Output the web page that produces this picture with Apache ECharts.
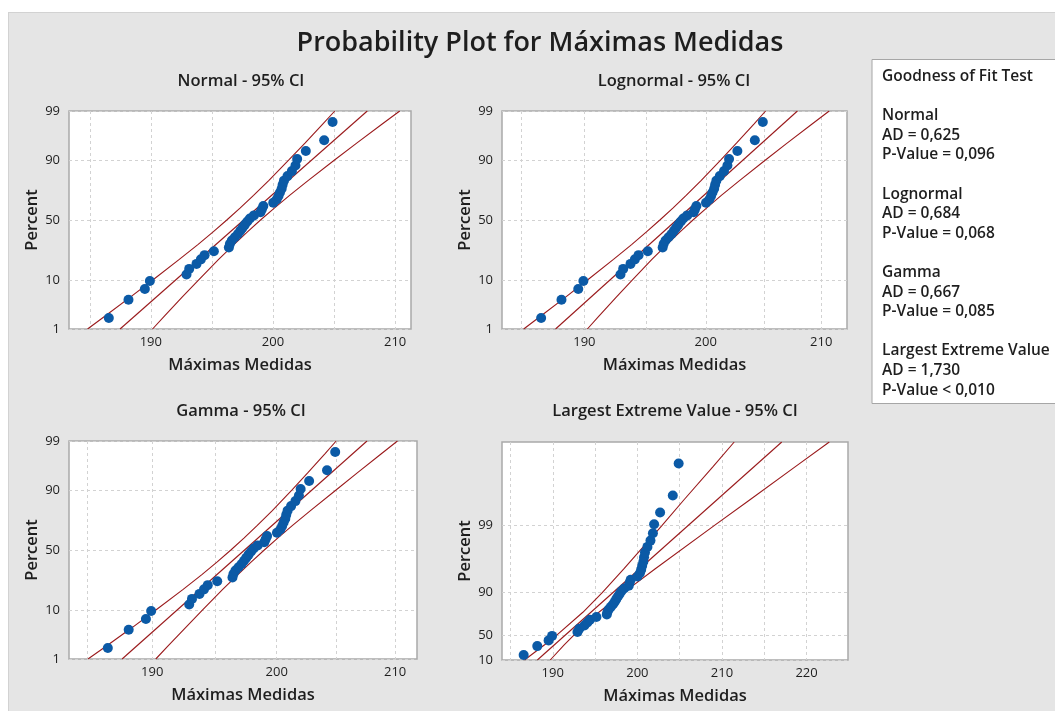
<!DOCTYPE html>
<html><head><meta charset="utf-8">
<script src="https://cdn.jsdelivr.net/npm/echarts@6/dist/echarts.min.js"></script>
<style>
html,body{margin:0;padding:0;background:#fff;}
#bg{position:absolute;left:8px;top:12px;width:1047px;height:699px;background:#e5e5e5;border-left:1px solid #d2d2d2;border-top:1px solid #d2d2d2;box-sizing:border-box;}
#c{position:absolute;left:0;top:0;width:1055px;height:711px;}
</style>
</head><body><div id="bg"></div><div id="c"></div><script>
// ---------- data ----------
const maximas = [186.56, 188.17, 189.51, 189.92, 192.92, 193.14, 193.74, 194.10, 194.40, 195.16,
  196.39, 196.47, 196.63, 196.88, 197.13, 197.33, 197.51, 197.70, 197.90, 198.11,
  198.44, 198.98, 199.09, 199.21, 200.02, 200.30, 200.45, 200.57, 200.71, 200.79,
  200.90, 201.19, 201.55, 201.84, 201.98, 202.69, 204.19, 204.88];
const plotPercent = [1.82, 4.43, 7.03, 9.64, 12.24, 14.84, 17.45, 20.05, 22.66, 25.26,
  27.86, 30.47, 33.07, 35.68, 38.28, 40.89, 43.49, 46.09, 48.70, 51.30,
  53.91, 56.51, 59.11, 61.72, 64.32, 66.93, 69.53, 72.14, 74.74, 77.34,
  79.95, 82.55, 85.16, 87.76, 90.36, 92.97, 95.57, 98.18];

const percentTicks = [1, 10, 50, 90, 99];
const percentTickLabels = ['1', '10', '50', '90', '99'];
const levTickPercent = [1, 10, 50, 90];
const levTickLabels = ['10', '50', '90', '99'];
const xGridValues = [185, 190, 195, 200, 205, 210];
const xLabelValues = [190, 200, 210];
const levXGridValues = [185, 190, 195, 200, 205, 210, 215, 220];
const levXLabelValues = [190, 200, 210, 220];

const fitPercent = [1, 99];
const bandPercent = [1, 2, 5, 10, 20, 30, 40, 50, 60, 70, 80, 90, 95, 98, 99];

const normalFit = [187.48, 207.72];
const normalLower = [184.82, 186.23, 188.32, 190.16, 192.33, 193.85, 195.10, 196.22, 197.30, 198.41, 199.65, 201.30, 202.64, 204.09, 205.06];
const normalUpper = [190.14, 191.11, 192.56, 193.90, 195.55, 196.80, 197.91, 198.98, 200.11, 201.36, 202.87, 205.04, 206.88, 208.97, 210.38];

const lognormalFit = [187.70, 207.90];
const lognormalLower = [185.19, 186.51, 188.50, 190.25, 192.35, 193.83, 195.05, 196.16, 197.24, 198.35, 199.60, 201.28, 202.63, 204.13, 205.12];
const lognormalUpper = [190.24, 191.17, 192.58, 193.88, 195.50, 196.74, 197.84, 198.92, 200.06, 201.32, 202.87, 205.11, 207.02, 209.22, 210.71];

const gammaFit = [187.66, 207.58];
const gammaLower = [185.04, 186.43, 188.49, 190.29, 192.44, 193.93, 195.16, 196.26, 197.32, 198.41, 199.64, 201.27, 202.57, 204.01, 204.96];
const gammaUpper = [190.28, 191.23, 192.67, 193.97, 195.60, 196.83, 197.92, 198.98, 200.08, 201.31, 202.80, 204.95, 206.75, 208.81, 210.20];

const levBandPercent = [1, 5, 10, 30, 50, 70, 90, 95, 98, 99];
const levFit = [188.18, 217.07];
const levLower = [186.66, 189.04, 190.44, 193.56, 195.85, 198.40, 202.90, 205.49, 208.92, 211.45];
const levUpper = [189.70, 191.38, 192.47, 195.45, 198.37, 202.08, 209.08, 213.27, 218.64, 222.69];

const mainTitle = 'Probability Plot for Máximas Medidas';
const panelTitles = ['Normal - 95% CI', 'Lognormal - 95% CI', 'Gamma - 95% CI', 'Largest Extreme Value - 95% CI'];
const xAxisName = 'Máximas Medidas';
const yAxisName = 'Percent';
const gofLines = ['Goodness of Fit Test', '', 'Normal', 'AD = 0,625', 'P-Value = 0,096', '',
  'Lognormal', 'AD = 0,684', 'P-Value = 0,068', '', 'Gamma', 'AD = 0,667', 'P-Value = 0,085', '',
  'Largest Extreme Value', 'AD = 1,730', 'P-Value < 0,010'];

// ---------- scales ----------
function probit(p) {
  const a=[-3.969683028665376e+01,2.209460984245205e+02,-2.759285104469687e+02,1.383577518672690e+02,-3.066479806614716e+01,2.506628277459239e+00];
  const b=[-5.447609879822406e+01,1.615858368580409e+02,-1.556989798598866e+02,6.680131188771972e+01,-1.328068155288572e+01];
  const c=[-7.784894002430293e-03,-3.223964580411365e-01,-2.400758277161838e+00,-2.549732539343734e+00,4.374664141464968e+00,2.938163982698783e+00];
  const d=[7.784695709041462e-03,3.224671290700398e-01,2.445134137142996e+00,3.754408661907416e+00];
  const pl=0.02425, ph=1-pl; let q, r;
  if (p < pl) { q=Math.sqrt(-2*Math.log(p)); return (((((c[0]*q+c[1])*q+c[2])*q+c[3])*q+c[4])*q+c[5])/((((d[0]*q+d[1])*q+d[2])*q+d[3])*q+1); }
  if (p <= ph) { q=p-0.5; r=q*q; return (((((a[0]*r+a[1])*r+a[2])*r+a[3])*r+a[4])*r+a[5])*q/(((((b[0]*r+b[1])*r+b[2])*r+b[3])*r+b[4])*r+1); }
  q=Math.sqrt(-2*Math.log(1-p)); return -(((((c[0]*q+c[1])*q+c[2])*q+c[3])*q+c[4])*q+c[5])/((((d[0]*q+d[1])*q+d[2])*q+d[3])*q+1);
}
const yNormal = pct => probit(pct / 100);
const yGumbel = pct => -Math.log(-Math.log(pct / 100));
const xLin = v => v, xLinInv = v => v;
const xLog = v => Math.log(v), xLogInv = v => Math.exp(v);

// ---------- layout / style ----------
const FONT = '"Open Sans", "Noto Sans", sans-serif';
const TXT = '#1e1e1e';
const PT = '#0b5aa6';
const LN = '#9a1a1c';
const layout = [
  {left: 69, top: 111, width: 342, height: 218, tx: 241, ty: 73},
  {left: 502, top: 111, width: 345, height: 218, tx: 674, ty: 73},
  {left: 69, top: 441, width: 348, height: 218, tx: 241, ty: 403},
  {left: 502, top: 442, width: 346, height: 218, tx: 675, ty: 403}
];
const panels = [
  {xf: xLin, xi: xLinInv, xr: [183.3, 211.3], yf: yNormal, tp: percentTicks, tl: percentTickLabels, gv: xGridValues, lv: xLabelValues, fit: normalFit, lo: normalLower, hi: normalUpper, bp: bandPercent},
  {xf: xLog, xi: xLogInv, xr: [183.5, 212.3], yf: yNormal, tp: percentTicks, tl: percentTickLabels, gv: xGridValues, lv: xLabelValues, fit: lognormalFit, lo: lognormalLower, hi: lognormalUpper, bp: bandPercent},
  {xf: xLog, xi: xLogInv, xr: [183.6, 211.9], yf: yNormal, tp: percentTicks, tl: percentTickLabels, gv: xGridValues, lv: xLabelValues, fit: gammaFit, lo: gammaLower, hi: gammaUpper, bp: bandPercent},
  {xf: xLin, xi: xLinInv, xr: [184.0, 224.9], yf: yGumbel, tp: levTickPercent, tl: levTickLabels, gv: levXGridValues, lv: levXLabelValues, fit: levFit, lo: levLower, hi: levUpper, bp: levBandPercent}
];

const grids = [], xAxes = [], yAxes = [], series = [], titles = [];
titles.push({text: mainTitle, left: 540, top: 30, textAlign: 'center', padding: 0,
  textStyle: {fontFamily: FONT, fontSize: 27, fontWeight: 600, color: TXT}});
const split = {show: true, lineStyle: {color: '#d2d2d2', type: [3, 3], width: 1}};
panels.forEach((p, i) => {
  const L = layout[i];
  grids.push({left: L.left, top: L.top, width: L.width, height: L.height, show: true,
    backgroundColor: '#fff', borderColor: '#a9a9a9', borderWidth: 1.5, containLabel: false});
  titles.push({text: panelTitles[i], left: L.tx, top: L.ty, textAlign: 'center', padding: 0,
    textStyle: {fontFamily: FONT, fontSize: 16.5, fontWeight: 600, color: TXT}});
  const yMin = p.yf(1), yMax = p.yf(99);
  const yTickVals = p.tp.map(p.yf);
  xAxes.push({gridIndex: i, type: 'value', min: p.xf(p.xr[0]), max: p.xf(p.xr[1]),
    name: xAxisName, nameLocation: 'middle', nameGap: 28,
    nameTextStyle: {fontFamily: FONT, fontSize: 16.5, fontWeight: 600, color: TXT},
    axisLine: {show: false}, axisTick: {show: false, customValues: p.gv.map(p.xf)},
    axisLabel: {customValues: p.lv.map(p.xf), formatter: v => String(Math.round(p.xi(v))),
      fontFamily: FONT, fontSize: 13, color: TXT, margin: 7},
    splitLine: split});
  yAxes.push({gridIndex: i, type: 'value', min: yMin, max: yMax,
    name: yAxisName, nameLocation: 'middle', nameGap: 28, nameRotate: 90,
    nameTextStyle: {fontFamily: FONT, fontSize: 16.5, fontWeight: 600, color: TXT},
    axisLine: {show: false}, axisTick: {show: false, customValues: yTickVals},
    axisLabel: {customValues: yTickVals, fontFamily: FONT, fontSize: 13, color: TXT, margin: 9,
      formatter: v => { let k = 0, best = Infinity; yTickVals.forEach((t, j) => { const dd = Math.abs(t - v); if (dd < best) { best = dd; k = j; } }); return p.tl[k]; }},
    splitLine: split});
  const lineStyle = {color: LN, width: 1.1};
  const common = {type: 'line', xAxisIndex: i, yAxisIndex: i, showSymbol: false, symbol: 'none', silent: true, clip: true, lineStyle, z: 2};
  series.push(Object.assign({}, common, {data: p.fit.map((x, j) => [p.xf(x), p.yf(fitPercent[j])])}));
  series.push(Object.assign({}, common, {data: p.lo.map((x, j) => [p.xf(x), p.yf(p.bp[j])])}));
  series.push(Object.assign({}, common, {data: p.hi.map((x, j) => [p.xf(x), p.yf(p.bp[j])])}));
  series.push({type: 'scatter', xAxisIndex: i, yAxisIndex: i, symbolSize: 10, silent: true, z: 3,
    itemStyle: {color: PT, opacity: 1},
    data: maximas.map((x, j) => [p.xf(x), p.yf(plotPercent[j])])});
});

const gofChildren = [{type: 'rect', shape: {x: 0, y: 0, width: 200, height: 344},
  style: {fill: '#fff', stroke: '#a6a6a6', lineWidth: 1}}];
gofLines.forEach((t, j) => {
  if (!t) return;
  gofChildren.push({type: 'text', x: 10, y: 17 + j * 19.6,
    style: {text: t, fill: TXT, font: '600 15.5px ' + FONT, textVerticalAlign: 'middle', verticalAlign: 'middle'}});
});

const chart = echarts.init(document.getElementById('c'), null, {renderer: 'canvas'});
chart.setOption({
  animation: false,
  backgroundColor: 'transparent',
  title: titles,
  grid: grids, xAxis: xAxes, yAxis: yAxes, series: series,
  graphic: [{type: 'group', left: 871.5, top: 59, children: gofChildren}]
});
</script></body></html>
